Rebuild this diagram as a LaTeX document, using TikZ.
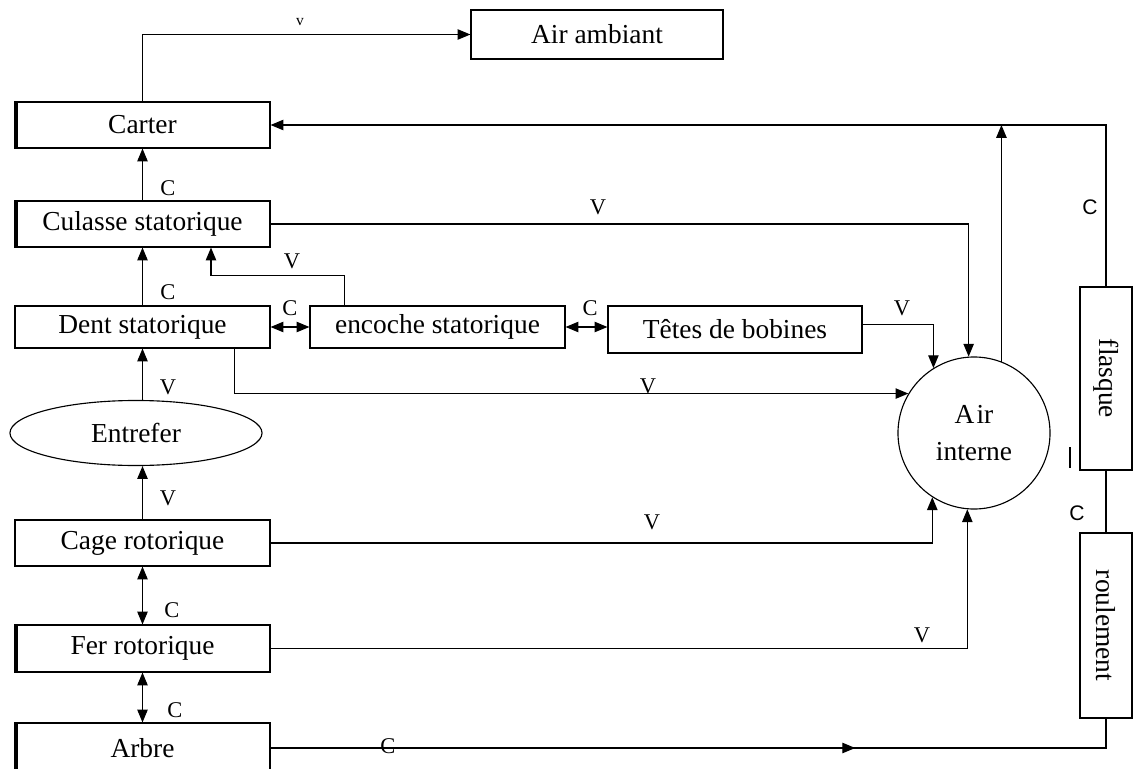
\documentclass[tikz,border=0pt]{standalone}
\usepackage{fontspec}
\setmainfont{Liberation Serif}
\newfontfamily\labelsans{Liberation Sans}
\usepackage{tikz}
\usetikzlibrary{positioning}
\usetikzlibrary{calc}
\usetikzlibrary{arrows.meta}
\usetikzlibrary{shapes.geometric}
\usetikzlibrary{decorations.markings}

\tikzset{
  box/.style={draw, thick, inner sep=0pt, minimum width=6.375cm, minimum height=1.15cm},
  lbl/.style={inner sep=0pt, font=\fontsize{16}{18}\selectfont},
  slbl/.style={inner sep=0pt, font=\labelsans\fontsize{15}{18}\selectfont},
  arr/.style={thick, -{Triangle[length=0.32cm,width=0.26cm]}},
  darr/.style={thick, {Triangle[length=0.32cm,width=0.26cm]}-{Triangle[length=0.32cm,width=0.26cm]}},
  wire/.style={thick},
  bar/.style={line width=0.1cm},
  midarr/.style={thick, postaction={decorate}, decoration={markings,
      mark=at position 0.676 with {\arrow{Triangle[length=0.32cm,width=0.26cm]}}}},
}

\begin{document}
\begin{tikzpicture}[x=0.025cm, y=-0.025cm, font=\fontsize{19.5}{26}\selectfont]
    \useasboundingbox (0,0) rectangle (1134,769);

        % Define nodes
        \node[box, minimum width=6.3cm, minimum height=1.225cm] (airamb) at (597,34.5) {Air ambiant};
        \node[box]                             (carter)  at (142.5,125)   {Carter};
        \node[box]                             (culasse) at (142.5,224)   {Culasse statorique};
        \node[box, minimum height=1.05cm]      (dent)    at (142.5,327)   {Dent statorique};
        \node[draw, thick, ellipse, inner sep=0pt, minimum width=6.3cm,
              minimum height=1.625cm]          (entrefer) at (136,433)    {Entrefer};
        \node[box]                             (cage)    at (142.5,543)   {Cage rotorique};
        \node[box, minimum height=1.175cm]     (fer)     at (142.5,648.5) {Fer rotorique};
        \node[box, minimum height=1.25cm]      (arbre)   at (142.5,748)   {Arbre};
        \node[box, minimum height=1.05cm]      (encoche) at (437.5,327)   {encoche statorique};
        \node[box, minimum width=6.35cm, minimum height=1.175cm] (tetes) at (735,329.5) {Têtes de bobines};
        \node[draw, thick, circle, inner sep=0pt, minimum size=3.8cm,
              align=center]                    (airint)  at (974,433)     {A\kern1.5pt ir\\interne};
        \node[box, minimum width=1.3cm, minimum height=4.575cm] (flasque)   at (1106,378.5) {\rotatebox{-90}{flasque}};
        \node[box, minimum width=1.3cm, minimum height=4.625cm] (roulement) at (1106,625.5) {\rotatebox{-90}{roulement}};

        % Thick left edges
        \foreach \n in {carter,culasse,fer,arbre}
          \draw[bar] ($(\n.south west)+(2,0)$) -- ($(\n.north west)+(2,0)$);
        \draw[wire] (1070,447) -- (1070,468);

        % Connect the nodes
        \draw[arr] (carter.north) |- (airamb.west);
        \draw[arr] (culasse.north) -- (carter.south);
        \draw[arr] (dent.north) -- (culasse.south);
        \draw[arr] (entrefer.north -| dent.south) -- (dent.south);
        \draw[arr] (cage.north) -- (cage.north |- entrefer.south);
        \draw[darr] (cage.south) -- (fer.north);
        \draw[darr] (fer.south) -- (arbre.north);
        \draw[darr] (dent.east) -- (encoche.west);
        \draw[darr] (encoche.east) -- (encoche.east -| tetes.west);
        \draw[arr] ($(encoche.north west)+(35,0)$) -- ++(0,-30) -| ($(culasse.south)+(68.5,0)$);
        \draw[arr] (culasse.east) -| (airint.94.5);
        \draw[arr] ($(tetes.east)+(0,-5)$) -| (airint.122.6);
        \draw[arr] ($(dent.south east)+(-36,0)$) |- (airint.149);
        \draw[arr] (cage.east) -| (airint.237.4);
        \draw[arr] (fer.east) -| (airint.265.5);
        \draw[arr] (airint.69.2) -- (airint.69.2 |- carter.east);
        \draw[arr] (flasque.north) |- (carter.east);
        \draw[wire] (flasque.south) -- (roulement.north);
        \draw[midarr] (arbre.east) -| (roulement.south);

        % Labels
        \node[lbl, font=\fontsize{11}{12}\selectfont] (l0) at (300,22) {v};
        \node[lbl] (l1)  at (168,188) {C};
        \node[lbl] (l2)  at (168,292) {C};
        \node[lbl] (l3)  at (168,387) {V};
        \node[lbl] (l4)  at (168,498) {V};
        \node[lbl] (l5)  at (172,610) {C};
        \node[lbl] (l6)  at (175,710) {C};
        \node[lbl] (l7)  at (290,308) {C};
        \node[lbl] (l8)  at (590,308) {C};
        \node[lbl] (l9)  at (292,261) {V};
        \node[lbl] (l10) at (598,207) {V};
        \node[lbl] (l11) at (902,308) {V};
        \node[lbl] (l12) at (648,386) {V};
        \node[lbl] (l13) at (652,522) {V};
        \node[lbl] (l14) at (922,635) {V};
        \node[lbl] (l15) at (388,746) {C};
        \node[slbl] (l16) at (1090,207) {C};
        \node[slbl] (l17) at (1077,513) {C};
      \end{tikzpicture}
\end{document}
